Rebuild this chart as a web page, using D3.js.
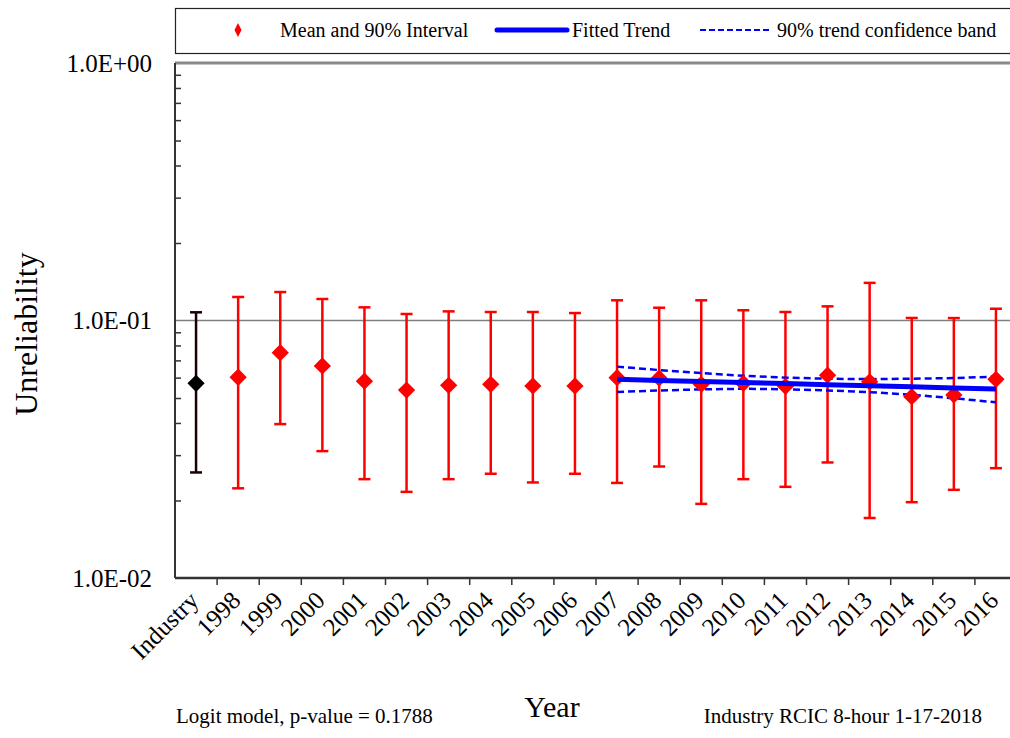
<!DOCTYPE html>
<html>
<head>
<meta charset="utf-8">
<script src="https://cdn.jsdelivr.net/npm/d3@7"></script>
<style>
  body { margin: 0; background: #fff; }
  text { font-family: "Liberation Serif", "Times New Roman", serif; }
</style>
</head>
<body>
<div id="chart"></div>
<script>
// categories and read-off values
const categories = ['Industry', '1998', '1999', '2000', '2001', '2002', '2003', '2004', '2005', '2006',
  '2007', '2008', '2009', '2010', '2011', '2012', '2013', '2014', '2015', '2016'];
const means = [0.0570, 0.0602, 0.0750, 0.0666, 0.0581, 0.0537, 0.0560, 0.0565, 0.0557, 0.0557,
  0.0600, 0.0597, 0.0565, 0.0570, 0.0555, 0.0613, 0.0578, 0.0506, 0.0514, 0.0591];
const upper = [0.1076, 0.1234, 0.1290, 0.1212, 0.1125, 0.1060, 0.1085, 0.1079, 0.1079, 0.1069,
  0.1198, 0.1121, 0.1198, 0.1096, 0.1079, 0.1135, 0.1400, 0.1023, 0.1022, 0.1111];
const lower = [0.0257, 0.0223, 0.0396, 0.0311, 0.0242, 0.0216, 0.0242, 0.0254, 0.0235, 0.0254,
  0.0234, 0.0271, 0.0194, 0.0242, 0.0226, 0.0281, 0.0171, 0.0197, 0.0220, 0.0267];

const trendYears = ['2007', '2008', '2009', '2010', '2011', '2012', '2013', '2014', '2015', '2016'];
const trend = [0.0591, 0.0585, 0.0580, 0.0574, 0.0569, 0.0563, 0.0558, 0.0553, 0.0547, 0.0542];
const bandUpper = [0.0662, 0.0642, 0.0625, 0.0610, 0.0600, 0.0594, 0.0592, 0.0594, 0.0598, 0.0605];
const bandLower = [0.0528, 0.0535, 0.0540, 0.0543, 0.0541, 0.0535, 0.0527, 0.0515, 0.0499, 0.0481];

const yTickValues = [0.01, 0.1, 1];
const yTickLabels = ['1.0E-02', '1.0E-01', '1.0E+00'];

const width = 1010, height = 738;
const margin = { top: 63, right: -7, bottom: 160, left: 175 };
const innerW = width - margin.left - margin.right;
const innerH = height - margin.top - margin.bottom;

const svg = d3.select('#chart').append('svg')
  .attr('width', width).attr('height', height);

const g = svg.append('g').attr('transform', `translate(${margin.left},${margin.top})`);

const x = d3.scaleBand().domain(categories).range([0, innerW]).padding(0);
const y = d3.scaleLog().domain([0.01, 1]).range([innerH, 0]);
const cx = d => x(d) + x.bandwidth() / 2;

// gridlines at decades
g.append('line').attr('x1', 0).attr('x2', innerW).attr('y1', y(0.1)).attr('y2', y(0.1))
  .attr('stroke', '#808080').attr('stroke-width', 1.5);
g.append('line').attr('x1', 0).attr('x2', innerW).attr('y1', y(1)).attr('y2', y(1))
  .attr('stroke', '#8a8a8a').attr('stroke-width', 3);

// minor ticks on y (inward)
const minor = [];
[0.01, 0.1].forEach(d => { for (let k = 2; k <= 9; k++) minor.push(d * k); });
g.append('g')
  .call(d3.axisRight(y).tickValues(minor).tickSize(6).tickFormat(''))
  .call(s => s.select('.domain').remove())
  .selectAll('line').attr('stroke', '#333').attr('stroke-width', 1.5);

// y axis line + labels
g.append('line').attr('x1', 0).attr('x2', 0).attr('y1', 0).attr('y2', innerH)
  .attr('stroke', '#333').attr('stroke-width', 2);
g.append('g')
  .call(d3.axisLeft(y).tickValues(yTickValues).tickSize(0).tickPadding(23)
    .tickFormat((d, i) => yTickLabels[i]))
  .call(s => s.select('.domain').remove())
  .selectAll('text')
  .attr('font-size', 25).attr('fill', '#000')
  .style('font-family', '"Liberation Serif", serif');

// x axis
const xTicks = categories.slice(1);
g.append('line').attr('x1', 0).attr('x2', innerW).attr('y1', innerH).attr('y2', innerH)
  .attr('stroke', '#333').attr('stroke-width', 2.5);
g.selectAll('.xtick').data(xTicks).enter().append('line')
  .attr('x1', d => x(d)).attr('x2', d => x(d))
  .attr('y1', innerH).attr('y2', innerH + 7)
  .attr('stroke', '#333').attr('stroke-width', 1.5);
g.selectAll('.xlab').data(categories).enter().append('text')
  .attr('text-anchor', 'end')
  .attr('font-size', 25)
  .attr('transform', d => `translate(${cx(d) + 4},${innerH + 24}) rotate(-45)`)
  .text(d => d);

// error bars and points
const rows = categories.map((c, i) => ({ c, m: means[i], lo: lower[i], hi: upper[i], ind: i === 0 }));
const capW = 6;
const bars = g.append('g');
rows.forEach(r => {
  const col = r.ind ? '#1a0000' : '#ff0000';
  const xc = cx(r.c);
  bars.append('line').attr('x1', xc).attr('x2', xc).attr('y1', y(r.hi)).attr('y2', y(r.lo))
    .attr('stroke', col).attr('stroke-width', 2.5);
  [r.hi, r.lo].forEach(v => bars.append('line')
    .attr('x1', xc - capW).attr('x2', xc + capW).attr('y1', y(v)).attr('y2', y(v))
    .attr('stroke', col).attr('stroke-width', 2.5));
});

// trend lines
const trendData = trendYears.map((t, i) => ({ t, v: trend[i], u: bandUpper[i], l: bandLower[i] }));
const line = key => d3.line().x(d => cx(d.t)).y(d => y(d[key]));
g.append('path').datum(trendData).attr('d', line('u'))
  .attr('fill', 'none').attr('stroke', '#0000ff').attr('stroke-width', 2.5).attr('stroke-dasharray', '7,4');
g.append('path').datum(trendData).attr('d', line('l'))
  .attr('fill', 'none').attr('stroke', '#0000ff').attr('stroke-width', 2.5).attr('stroke-dasharray', '7,4');

// diamonds
const diamond = d3.symbol().type(d3.symbolDiamond2).size(190);
g.selectAll('.pt').data(rows).enter().append('path')
  .attr('d', diamond)
  .attr('transform', d => `translate(${cx(d.c)},${y(d.m)})`)
  .attr('fill', d => d.ind ? '#000' : '#ff0000');

g.append('path').datum(trendData).attr('d', line('v'))
  .attr('fill', 'none').attr('stroke', '#0000ff').attr('stroke-width', 5);

// legend
const leg = svg.append('g');
leg.append('rect').attr('x', 175.5).attr('y', 8.5).attr('width', 850).attr('height', 45)
  .attr('fill', '#fff').attr('stroke', '#222').attr('stroke-width', 1.2);
leg.append('path').attr('d', 'M0,-7L3.5,0L0,7L-3.5,0Z')
  .attr('transform', 'translate(238,30)').attr('fill', '#ff0000');
leg.append('text').attr('x', 280).attr('y', 37).attr('font-size', 20).text('Mean and 90% Interval');
leg.append('line').attr('x1', 497).attr('x2', 567).attr('y1', 30).attr('y2', 30)
  .attr('stroke', '#0000ff').attr('stroke-width', 5).attr('stroke-linecap', 'round');
leg.append('text').attr('x', 572).attr('y', 37).attr('font-size', 20).text('Fitted Trend');
leg.append('line').attr('x1', 700).attr('x2', 771).attr('y1', 30).attr('y2', 30)
  .attr('stroke', '#0000ff').attr('stroke-width', 2).attr('stroke-dasharray', '6,3');
leg.append('text').attr('x', 777).attr('y', 37).attr('font-size', 20).text('90% trend confidence band');

// axis titles and notes
svg.append('text').attr('x', 552).attr('y', 717).attr('text-anchor', 'middle')
  .attr('font-size', 30).text('Year');
svg.append('text').attr('transform', 'translate(37,334) rotate(-90)').attr('text-anchor', 'middle')
  .attr('font-size', 32).text('Unreliability');
svg.append('text').attr('x', 176).attr('y', 723).attr('font-size', 21)
  .text('Logit model, p-value = 0.1788');
svg.append('text').attr('x', 982).attr('y', 723).attr('text-anchor', 'end').attr('font-size', 21)
  .text('Industry RCIC 8-hour 1-17-2018');
</script>
</body>
</html>
